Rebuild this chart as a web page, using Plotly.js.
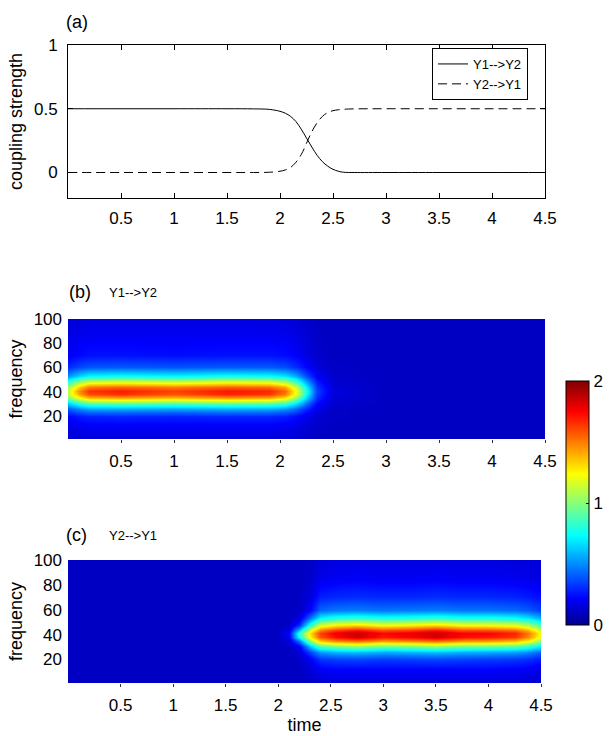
<!DOCTYPE html>
<html>
<head>
<meta charset="utf-8">
<script src="https://cdn.plot.ly/plotly-3.0.1.min.js"></script>
<style>
html,body{margin:0;padding:0;background:#fff;}
#chart{width:609px;height:736px;}
</style>
</head>
<body>
<div id="chart"></div>
<script>
// ---------- panel (a): coupling strength ----------
const time = [0, 0.5, 1, 1.5, 1.75, 1.9, 2.0, 2.05, 2.1, 2.15, 2.2, 2.25, 2.3, 2.35, 2.4, 2.45, 2.5, 2.55, 2.6, 2.7, 3, 3.5, 4, 4.5];
const y1ToY2 = [0.5, 0.5, 0.5, 0.5, 0.499, 0.495, 0.48, 0.465, 0.44, 0.4, 0.34, 0.27, 0.2, 0.135, 0.085, 0.05, 0.025, 0.01, 0.002, 0, 0, 0, 0, 0];
const y2ToY1 = [0, 0, 0, 0, 0, 0.002, 0.01, 0.02, 0.04, 0.08, 0.14, 0.23, 0.32, 0.39, 0.44, 0.47, 0.485, 0.492, 0.496, 0.499, 0.5, 0.5, 0.5, 0.5];

// ---------- heatmaps: frequency rows ----------
const freq = [1, 12, 20, 26, 31, 35, 38, 41, 44, 48, 53, 60, 70, 85, 100];

// panel (b) Y1-->Y2 : one column per time sample (values listed along freq)
const timeB = [0, 0.1, 0.2, 0.5, 1.0, 1.5, 1.9, 2.05, 2.15, 2.25, 2.35, 2.5, 3.0, 4.5];
const powerB = [
  [0.14,0.17,0.23,0.39,0.65,0.95,1.11,1.14,1.04,0.82,0.52,0.30,0.20,0.17,0.14],
  [0.14,0.19,0.27,0.48,0.82,1.21,1.42,1.46,1.33,1.04,0.65,0.36,0.23,0.19,0.15],
  [0.15,0.20,0.29,0.54,0.92,1.36,1.60,1.65,1.51,1.17,0.73,0.39,0.25,0.20,0.16],
  [0.15,0.20,0.30,0.55,0.95,1.40,1.66,1.70,1.55,1.20,0.75,0.40,0.25,0.20,0.16],
  [0.15,0.20,0.29,0.53,0.92,1.35,1.58,1.62,1.50,1.16,0.72,0.39,0.24,0.20,0.16],
  [0.15,0.20,0.30,0.56,0.96,1.42,1.68,1.71,1.56,1.21,0.76,0.40,0.25,0.20,0.16],
  [0.15,0.20,0.30,0.55,0.94,1.39,1.64,1.68,1.53,1.19,0.74,0.40,0.25,0.20,0.16],
  [0.14,0.19,0.28,0.51,0.87,1.27,1.50,1.54,1.41,1.09,0.69,0.37,0.24,0.19,0.15],
  [0.13,0.17,0.24,0.42,0.70,1.01,1.19,1.22,1.12,0.87,0.56,0.31,0.21,0.17,0.14],
  [0.11,0.14,0.18,0.28,0.44,0.62,0.72,0.74,0.68,0.54,0.36,0.22,0.16,0.14,0.12],
  [0.10,0.12,0.13,0.17,0.23,0.30,0.33,0.34,0.32,0.27,0.20,0.15,0.12,0.11,0.10],
  [0.10,0.10,0.11,0.11,0.13,0.14,0.15,0.15,0.14,0.13,0.12,0.11,0.10,0.10,0.10],
  [0.10,0.10,0.10,0.10,0.10,0.10,0.10,0.10,0.10,0.10,0.10,0.10,0.10,0.10,0.10],
  [0.10,0.10,0.10,0.10,0.10,0.10,0.10,0.10,0.10,0.10,0.10,0.10,0.10,0.10,0.10]
];

// panel (c) Y2-->Y1
const timeC = [0, 2.0, 2.1, 2.2, 2.3, 2.4, 2.55, 2.75, 3.0, 3.25, 3.5, 3.75, 4.0, 4.25, 4.38, 4.5];
const powerC = [
  [0.10,0.10,0.10,0.10,0.10,0.10,0.10,0.10,0.10,0.10,0.10,0.10,0.10,0.10,0.10],
  [0.10,0.10,0.10,0.10,0.10,0.10,0.10,0.10,0.10,0.10,0.10,0.10,0.10,0.10,0.10],
  [0.10,0.10,0.10,0.10,0.11,0.14,0.20,0.22,0.17,0.12,0.10,0.10,0.10,0.10,0.10],
  [0.10,0.10,0.11,0.13,0.20,0.45,0.75,0.80,0.60,0.30,0.15,0.11,0.10,0.10,0.10],
  [0.11,0.14,0.20,0.35,0.62,1.00,1.25,1.30,1.15,0.80,0.45,0.22,0.15,0.12,0.11],
  [0.13,0.20,0.32,0.53,0.91,1.34,1.58,1.62,1.48,1.15,0.72,0.42,0.28,0.18,0.14],
  [0.14,0.22,0.35,0.58,0.99,1.47,1.73,1.78,1.62,1.26,0.80,0.46,0.30,0.20,0.16],
  [0.14,0.22,0.36,0.60,1.04,1.53,1.83,1.87,1.70,1.31,0.83,0.47,0.31,0.21,0.16],
  [0.14,0.22,0.34,0.56,0.97,1.43,1.70,1.74,1.58,1.22,0.78,0.45,0.30,0.20,0.16],
  [0.14,0.22,0.35,0.58,0.99,1.47,1.75,1.79,1.62,1.26,0.80,0.46,0.30,0.20,0.16],
  [0.14,0.22,0.36,0.60,1.04,1.53,1.83,1.86,1.70,1.31,0.83,0.47,0.31,0.21,0.16],
  [0.14,0.22,0.35,0.57,0.98,1.44,1.72,1.76,1.59,1.23,0.78,0.45,0.30,0.20,0.16],
  [0.14,0.22,0.34,0.56,0.97,1.43,1.70,1.75,1.58,1.22,0.78,0.45,0.30,0.20,0.16],
  [0.14,0.21,0.33,0.54,0.93,1.37,1.64,1.68,1.52,1.18,0.75,0.43,0.29,0.19,0.15],
  [0.13,0.20,0.31,0.50,0.85,1.24,1.47,1.51,1.38,1.07,0.68,0.40,0.27,0.18,0.15],
  [0.12,0.18,0.27,0.42,0.70,1.01,1.19,1.22,1.12,0.87,0.57,0.34,0.24,0.16,0.14]
];

const timeTicks = [0.5, 1, 1.5, 2, 2.5, 3, 3.5, 4, 4.5];
const timeTickText = ['0.5', '1', '1.5', '2', '2.5', '3', '3.5', '4', '4.5'];
const couplingTicks = [0, 0.5, 1];
const freqTicks = [20, 40, 60, 80, 100];
const colorTicks = [0, 1, 2];

// ---------- layout helpers (pixel -> paper) ----------
const W = 609, H = 736;
const px = v => v / W;
const py = v => 1 - v / H;

const FONT = 'Liberation Sans, Arial, Helvetica, sans-serif';
const jet = [
  [0, 'rgb(0,0,143)'], [0.11, 'rgb(0,0,255)'], [0.365, 'rgb(0,255,255)'],
  [0.619, 'rgb(255,255,0)'], [0.873, 'rgb(255,0,0)'], [1, 'rgb(128,0,0)']
];

const traces = [
  {x: time, y: y1ToY2, type: 'scatter', mode: 'lines', name: 'Y1-->Y2',
   line: {color: '#000', width: 1, shape: 'spline'}, xaxis: 'x', yaxis: 'y'},
  {x: time, y: y2ToY1, type: 'scatter', mode: 'lines', name: 'Y2-->Y1',
   line: {color: '#000', width: 1, dash: '9px,5px', shape: 'spline'}, xaxis: 'x', yaxis: 'y'},
  {x: timeB, y: freq, z: powerB, transpose: true, type: 'heatmap', zsmooth: 'best',
   coloraxis: 'coloraxis', xaxis: 'x2', yaxis: 'y2', showlegend: false},
  {x: timeC, y: freq, z: powerC, transpose: true, type: 'heatmap', zsmooth: 'best',
   coloraxis: 'coloraxis', xaxis: 'x3', yaxis: 'y3', showlegend: false}
];

const tickFont = {family: FONT, size: 17, color: '#000'};
const titleFont = {family: FONT, size: 18, color: '#000'};
const subFont = {family: FONT, size: 13, color: '#000'};
const lineX = {
  range: [0, 4.5], tickvals: timeTicks, ticktext: timeTickText, tickfont: tickFont,
  showgrid: false, zeroline: false, showline: true, linecolor: '#000', linewidth: 1,
  mirror: 'ticks', ticks: 'inside', ticklen: 5, tickcolor: '#000', ticklabelstandoff: 5
};
const heatX = {
  range: [0, 4.5], tickvals: timeTicks, ticktext: timeTickText, tickfont: tickFont,
  showgrid: false, zeroline: false, showline: false,
  ticks: 'outside', ticklen: 3, tickcolor: '#333', ticklabelstandoff: 4
};
const heatY = {
  range: [1, 100], tickvals: freqTicks, tickfont: tickFont,
  showgrid: false, zeroline: false, showline: false, ticks: '', ticklabelstandoff: 5,
  title: {text: 'frequency', font: titleFont, standoff: 6}
};

const layout = {
  width: W, height: H,
  margin: {l: 0, r: 0, t: 0, b: 0},
  paper_bgcolor: '#fff', plot_bgcolor: '#fff',
  font: {family: FONT, color: '#000'},
  showlegend: true,
  legend: {
    x: px(432), y: py(48), xanchor: 'left', yanchor: 'top',
    bgcolor: '#fff', bordercolor: '#000', borderwidth: 1,
    font: subFont, tracegroupgap: 0
  },
  xaxis: Object.assign({}, lineX, {domain: [px(68), px(545)], anchor: 'y'}),
  yaxis: {
    domain: [py(198), py(45)], anchor: 'x', range: [-0.2, 1], tickvals: couplingTicks,
    ticktext: ['0', '0.5', '1'], tickfont: tickFont,
    showgrid: false, zeroline: false, showline: true, linecolor: '#000', linewidth: 1,
    mirror: 'ticks', ticks: 'inside', ticklen: 5, tickcolor: '#000', ticklabelstandoff: 6,
    title: {text: 'coupling strength', font: titleFont, standoff: 6}
  },
  xaxis2: Object.assign({}, heatX, {domain: [px(68), px(545)], anchor: 'y2'}),
  yaxis2: Object.assign({}, heatY, {domain: [py(439), py(319)], anchor: 'x2'}),
  xaxis3: Object.assign({}, heatX, {domain: [px(68), px(541)], anchor: 'y3',
    title: {text: 'time', font: titleFont, standoff: 0}}),
  yaxis3: Object.assign({}, heatY, {domain: [py(683), py(560)], anchor: 'x3'}),
  coloraxis: {
    cmin: 0, cmax: 2, colorscale: jet,
    colorbar: {
      x: px(566), xanchor: 'left', xpad: 0, y: py(625), yanchor: 'bottom', ypad: 0,
      len: (625 - 381) / H, lenmode: 'fraction', thickness: 23, thicknessmode: 'pixels',
      outlinecolor: '#000', outlinewidth: 1,
      tickvals: colorTicks, ticks: 'inside', ticklen: 3, tickcolor: '#000',
      tickfont: {family: FONT, size: 17, color: '#000'}
    }
  },
  annotations: [
    {text: '(a)', x: px(77), y: py(22), xref: 'paper', yref: 'paper', xanchor: 'center',
     yanchor: 'middle', showarrow: false, font: titleFont},
    {text: '(b)', x: px(80), y: py(292), xref: 'paper', yref: 'paper', xanchor: 'center',
     yanchor: 'middle', showarrow: false, font: titleFont},
    {text: 'Y1-->Y2', x: px(107), y: py(292), xref: 'paper', yref: 'paper', xanchor: 'left',
     yanchor: 'middle', showarrow: false, font: subFont},
    {text: '(c)', x: px(76), y: py(535), xref: 'paper', yref: 'paper', xanchor: 'center',
     yanchor: 'middle', showarrow: false, font: titleFont},
    {text: 'Y2-->Y1', x: px(107), y: py(535), xref: 'paper', yref: 'paper', xanchor: 'left',
     yanchor: 'middle', showarrow: false, font: subFont}
  ]
};

Plotly.newPlot('chart', traces, layout, {displayModeBar: false, staticPlot: true});
</script>
</body>
</html>
